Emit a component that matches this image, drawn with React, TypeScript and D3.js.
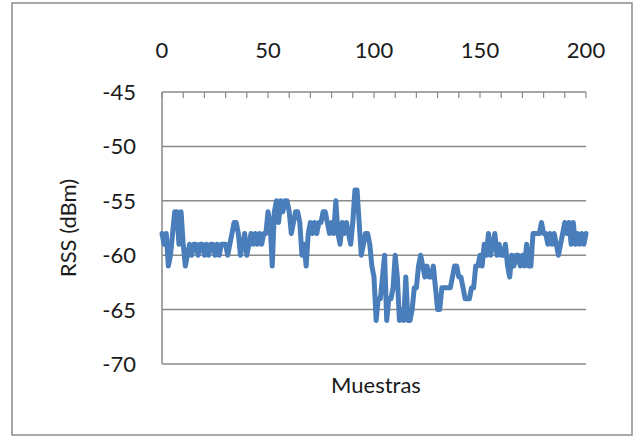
import React from "react";
import * as d3 from "d3";

const rss: number[] = [
  -58, -59, -58, -61, -60, -58, -56, -56, -59, -56,
  -59, -61, -60, -59, -60, -59, -59, -60, -59, -59,
  -60, -59, -60, -59, -59, -60, -59, -60, -59, -59,
  -59, -60, -59, -58, -57, -57, -58, -60, -59, -58,
  -60, -59, -58, -59, -58, -59, -58, -59, -58, -58,
  -56, -57, -61, -56, -55, -57, -55, -56, -55, -55,
  -56, -58, -57, -56, -56, -57, -60, -59, -61, -58,
  -57, -58, -57, -58, -57, -57, -56, -56, -57, -58,
  -57, -58, -55, -58, -59, -57, -58, -57, -58, -59,
  -57, -54, -54, -57, -60, -59, -58, -58, -59, -61,
  -62, -66, -64, -64, -62, -60, -66, -64, -64, -63,
  -60, -62, -66, -65, -66, -62, -66, -66, -65, -63,
  -63, -61, -60, -61, -62, -61, -62, -62, -61, -63,
  -65, -65, -63, -63, -63, -63, -63, -62, -61, -61,
  -62, -62, -63, -64, -64, -64, -63, -63, -61, -61,
  -60, -61, -59, -60, -58, -60, -59, -58, -60, -59,
  -60, -60, -59, -61, -62, -60, -61, -60, -60, -61,
  -60, -61, -59, -61, -61, -58, -58, -58, -58, -57,
  -58, -58, -59, -58, -59, -58, -59, -60, -59, -58,
  -57, -58, -57, -59, -57, -59, -58, -59, -58, -59,
  -58,
];
const xTickLabels: number[] = [0, 50, 100, 150, 200];
const xMinorTicks: number[] = d3.range(0, 201, 10);
const yTickLabels: number[] = [-45, -50, -55, -60, -65, -70];
const xTitle = "Muestras";
const yTitle = "RSS (dBm)";

export default function App() {
  const W = 641;
  const H = 441;
  const left = 162;
  const right = 586;
  const top = 92;
  const bottom = 364;
  const x = d3.scaleLinear().domain([0, 200]).range([left, right]);
  const y = d3.scaleLinear().domain([-45, -70]).range([top, bottom]);
  const line = d3
    .line<number>()
    .x((_, i) => x(i))
    .y((d) => y(d));
  const font = "Lato, 'Open Sans', sans-serif";
  const gray = "#8a8a8a";
  return (
    <svg
      width={W}
      height={H}
      style={{ position: "absolute", left: 0, top: 0, background: "#fff" }}
      fontFamily={font}
    >
      <rect x={0} y={0} width={W} height={H} fill="#fff" />
      <rect x={12} y={3} width={620} height={432} fill="none" stroke="#8c8c8c" strokeWidth={1.5} />
      {yTickLabels.slice(1).map((v) => (
        <line key={v} x1={left} x2={right} y1={y(v)} y2={y(v)} stroke={gray} strokeWidth={1.5} />
      ))}
      <line x1={left} x2={right} y1={top} y2={top} stroke={gray} strokeWidth={1.5} />
      <line x1={left} x2={left} y1={top} y2={bottom} stroke={gray} strokeWidth={1.5} />
      {xMinorTicks.map((t) => (
        <line key={t} x1={x(t)} x2={x(t)} y1={top} y2={top + 6} stroke={gray} strokeWidth={1.2} />
      ))}
      {xTickLabels.map((t) => (
        <text key={t} x={x(t)} y={58} textAnchor="middle" fontSize={22} fill="#1a1a1a">
          {t}
        </text>
      ))}
      {yTickLabels.map((v) => (
        <text key={v} x={136} y={y(v)} dy="0.36em" textAnchor="end" fontSize={22} fill="#1a1a1a">
          {v}
        </text>
      ))}
      <path
        d={line(rss) || ""}
        fill="none"
        stroke="#4a7ebb"
        strokeWidth={5}
        strokeLinejoin="round"
        strokeLinecap="round"
      />
      <text x={376} y={393} textAnchor="middle" fontSize={22} fill="#1a1a1a">
        {xTitle}
      </text>
      <text
        transform={`translate(76, 228) rotate(-90)`}
        textAnchor="middle"
        fontSize={22}
        fill="#1a1a1a"
      >
        {yTitle}
      </text>
    </svg>
  );
}
